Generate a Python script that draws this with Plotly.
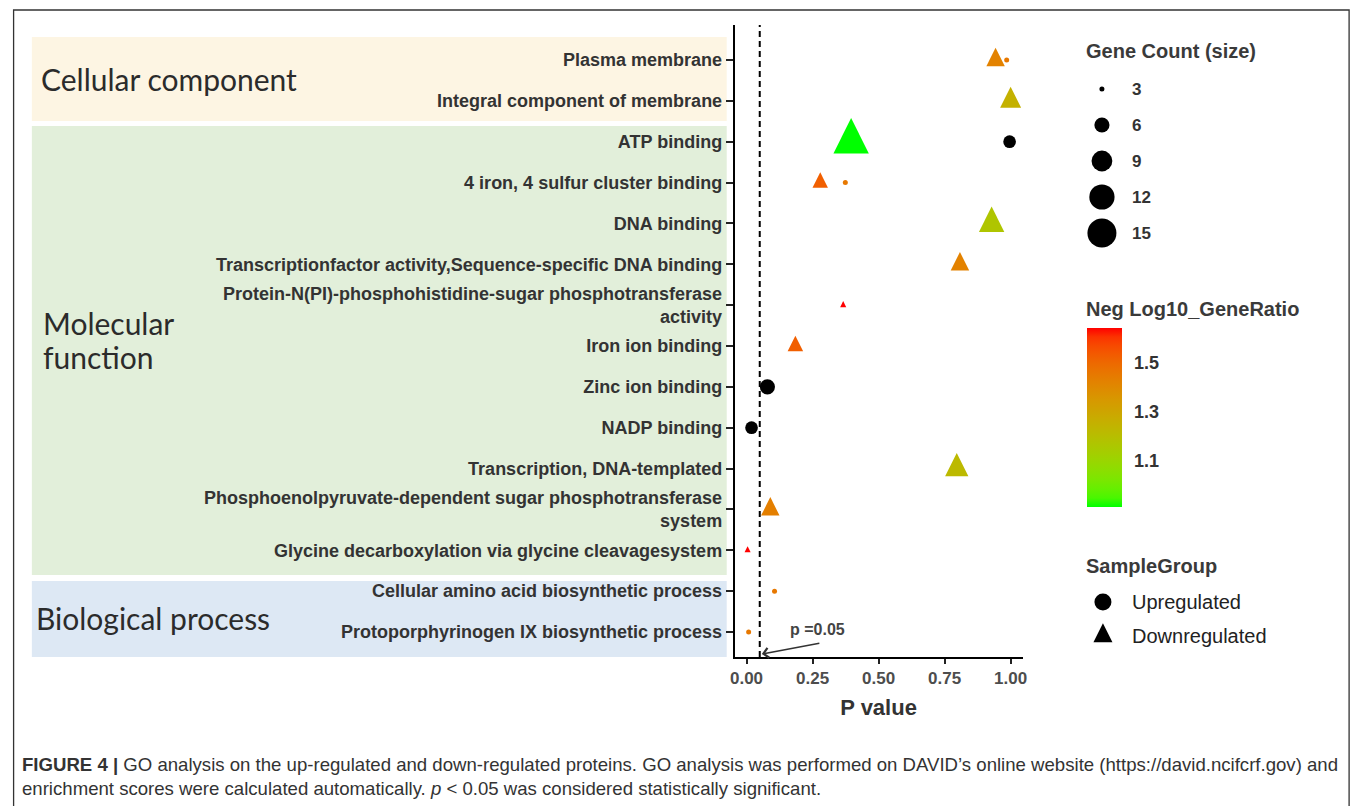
import numpy as np
import plotly.graph_objects as go

W, H = 1360, 806
OX, OY = 8, 8  # page body margin of the html wrapper

# ---------------- data ----------------
terms = [
    "Plasma membrane",
    "Integral component of membrane",
    "ATP binding",
    "4 iron, 4 sulfur cluster binding",
    "DNA binding",
    "Transcriptionfactor activity,Sequence-specific DNA binding",
    "Protein-N(PI)-phosphohistidine-sugar phosphotransferase<br>activity",
    "Iron ion binding",
    "Zinc ion binding",
    "NADP binding",
    "Transcription, DNA-templated",
    "Phosphoenolpyruvate-dependent sugar phosphotransferase<br>system",
    "Glycine decarboxylation via glycine cleavagesystem",
    "Cellular amino acid biosynthetic process",
    "Protoporphyrinogen IX biosynthetic process",
]

pt_term = [0, 0, 1, 2, 2, 3, 3, 4, 5, 6, 7, 8, 9, 10, 11, 12, 13, 14]
pt_group = ["Down", "Up", "Down", "Down", "Up", "Down", "Up", "Down", "Down",
            "Down", "Down", "Up", "Up", "Down", "Down", "Down", "Up", "Up"]
pt_pvalue = [0.943, 0.985, 1.0, 0.396, 0.996, 0.279, 0.374, 0.928, 0.808,
             0.366, 0.185, 0.079, 0.019, 0.796, 0.090, 0.004, 0.106, 0.008]
pt_count = [6, 3, 7, 15, 5, 5, 3, 9, 6, 3, 5, 6, 5, 8, 6, 3, 3, 3]
pt_neglog = [1.42, 1.45, 1.25, 0.91, None, 1.52, 1.45, 1.17, 1.42,
             1.64, 1.52, None, None, 1.22, 1.43, 1.64, 1.45, 1.45]

size_breaks = [3, 6, 9, 12, 15]
color_ticks = [1.1, 1.3, 1.5]
group_names = ["Upregulated", "Downregulated"]
p_cut = 0.05

caption1 = ("<b>FIGURE 4 |</b> GO analysis on the up-regulated and down-regulated proteins. "
            "GO analysis was performed on DAVID\u2019s online website (https://david.ncifcrf.gov) and")
caption2 = ("enrichment scores were calculated automatically. <i>p</i> &lt; 0.05 was considered "
            "statistically significant.")

# ---------------- scales ----------------
def circ_size(c):
    return float(np.sqrt(25 + (c - 3) * 68))

def tri_size(c):
    return 1.22 * circ_size(c)

M = np.array([[0.4124564, 0.3575761, 0.1804375],
              [0.2126729, 0.7151522, 0.0721750],
              [0.0193339, 0.1191920, 0.9503041]])
WP = np.array([0.95047, 1.0, 1.08883])

def rgb2lab(rgb):
    c = np.asarray(rgb, float) / 255.0
    lin = np.where(c <= 0.04045, c / 12.92, ((c + 0.055) / 1.055) ** 2.4)
    xyz = M @ lin / WP
    d = 6 / 29
    f = np.where(xyz > d ** 3, np.cbrt(xyz), xyz / (3 * d * d) + 4 / 29)
    return np.array([116 * f[1] - 16, 500 * (f[0] - f[1]), 200 * (f[1] - f[2])])

def lab2rgb(lab):
    L, a, b = lab
    fy = (L + 16) / 116
    f = np.array([fy + a / 500, fy, fy - b / 200])
    d = 6 / 29
    xyz = np.where(f > d, f ** 3, 3 * d * d * (f - 4 / 29)) * WP
    lin = np.clip(np.linalg.inv(M) @ xyz, 0, 1)
    c = np.where(lin <= 0.0031308, 12.92 * lin, 1.055 * lin ** (1 / 2.4) - 0.055)
    r, g, bb = (int(round(v * 255)) for v in np.clip(c, 0, 1))
    return f"rgb({r},{g},{bb})"

lo, hi = rgb2lab([0, 255, 0]), rgb2lab([255, 0, 0])
colorscale = [[t, lab2rgb(lo + (hi - lo) * t)] for t in np.linspace(0, 1, 21)]
valid = [v for v in pt_neglog if v is not None]
cmin, cmax = min(valid), max(valid)

def px(x):
    return (x - OX) / W

def py(y):
    return 1 - (y - OY) / H

fig = go.Figure()

# ---------------- main traces ----------------
down = [i for i in range(len(pt_term)) if pt_group[i] == "Down"]
up_col = [i for i in range(len(pt_term)) if pt_group[i] == "Up" and pt_neglog[i] is not None]
up_na = [i for i in range(len(pt_term)) if pt_group[i] == "Up" and pt_neglog[i] is None]

fig.add_trace(go.Scatter(
    x=[pt_pvalue[i] for i in down], y=[terms[pt_term[i]] for i in down],
    mode="markers", showlegend=False, hoverinfo="skip",
    marker=dict(symbol="arrow-down", angle=180, opacity=1,
                size=[tri_size(pt_count[i]) for i in down],
                standoff=[tri_size(pt_count[i]) * 2 / 3 for i in down],
                color=[pt_neglog[i] for i in down], coloraxis="coloraxis",
                line=dict(width=0))))
fig.add_trace(go.Scatter(
    x=[pt_pvalue[i] for i in up_col], y=[terms[pt_term[i]] for i in up_col],
    mode="markers", showlegend=False, hoverinfo="skip",
    marker=dict(symbol="circle", opacity=1, size=[circ_size(pt_count[i]) for i in up_col],
                color=[pt_neglog[i] for i in up_col], coloraxis="coloraxis",
                line=dict(width=0))))
fig.add_trace(go.Scatter(
    x=[pt_pvalue[i] for i in up_na], y=[terms[pt_term[i]] for i in up_na],
    mode="markers", showlegend=False, hoverinfo="skip",
    marker=dict(symbol="circle", opacity=1, size=[circ_size(pt_count[i]) for i in up_na],
                color="black", line=dict(width=0))))

# ---------------- legend glyphs (overlay axis in reference-pixel units) ----------------
size_y = [89 + 36 * k for k in range(len(size_breaks))]
fig.add_trace(go.Scatter(
    x=[1105] * len(size_breaks), y=size_y, xaxis="x2", yaxis="y2",
    mode="markers", showlegend=False, hoverinfo="skip",
    marker=dict(symbol="circle", color="black", opacity=1,
                size=[circ_size(c) for c in size_breaks], line=dict(width=0))))
grp_y = [602, 636]
fig.add_trace(go.Scatter(
    x=[1106], y=[grp_y[0]], xaxis="x2", yaxis="y2", mode="markers",
    showlegend=False, hoverinfo="skip",
    marker=dict(symbol="circle", color="black", size=17, opacity=1, line=dict(width=0))))
fig.add_trace(go.Scatter(
    x=[1106], y=[grp_y[1]], xaxis="x2", yaxis="y2", mode="markers",
    showlegend=False, hoverinfo="skip",
    marker=dict(symbol="arrow-down", angle=180, size=19, standoff=19 * 2 / 3,
                color="black", opacity=1, line=dict(width=0))))

# ---------------- layout ----------------
BOLD = "Liberation Sans, Arial, sans-serif"
TICKFONT = dict(family=BOLD, size=18, color="#333333", weight="bold")

x_left, x_right = 735, 1025
y_top, y_bot = 25, 657
n = len(terms)

cb_left, cb_right, cb_top, cb_bot = 1087, 1122, 328, 507

fig.update_layout(
    width=W, height=H, autosize=False,
    margin=dict(l=0, r=0, t=0, b=0),
    paper_bgcolor="white", plot_bgcolor="white",
    xaxis=dict(domain=[px(x_left), px(x_right)], range=[-0.045, 1.045],
               tickvals=[0, 0.25, 0.5, 0.75, 1.0],
               ticktext=["0.00", "0.25", "0.50", "0.75", "1.00"],
               ticks="outside", ticklen=5, tickwidth=1.5, tickcolor="#222",
               showline=True, linecolor="black", linewidth=1.8,
               showgrid=False, zeroline=False,
               tickfont=dict(family=BOLD, size=17, color="#4d4d4d", weight="bold"),
               title=dict(text="<b>P value</b>", font=dict(family=BOLD, size=22, color="#333"),
                          standoff=12)),
    yaxis=dict(domain=[py(y_bot), py(y_top)], type="category",
               categoryorder="array", categoryarray=terms,
               range=[n - 1 + 25 / 40.857, -35 / 40.857],
               ticks="outside", ticklen=7, tickwidth=1.5, tickcolor="#222",
               showline=True, linecolor="black", linewidth=1.8,
               showgrid=False, zeroline=False, tickfont=TICKFONT),
    xaxis2=dict(domain=[px(1060), 1.0], range=[1060, W + OX], visible=False, anchor="y2"),
    yaxis2=dict(domain=[0, 1], range=[H + OY, OY], visible=False, anchor="x2"),
    coloraxis=dict(
        colorscale=colorscale, cmin=cmin, cmax=cmax,
        colorbar=dict(
            x=px(cb_left + 3), xanchor="left", y=py(cb_top), yanchor="top", xpad=0, ypad=0,
            len=(cb_bot - cb_top) / H, lenmode="fraction", thickness=cb_right - cb_left,
            thicknessmode="pixels",
            outlinewidth=0, tickvals=color_ticks, ticktext=[f"{v:.1f}" for v in color_ticks],
            ticks="outside", ticklen=9, tickcolor="rgba(0,0,0,0)", tickwidth=1,
            tickfont=dict(family=BOLD, size=18, color="#333", weight="bold"),
            title=dict(text=""))),
)

shapes = []
bands = [(37, 121, "#FDF5E3"), (126, 575, "#E2EFDA"), (581, 657, "#DDE8F4")]
for y0, y1, col in bands:
    shapes.append(dict(type="rect", xref="paper", yref="paper",
                       x0=px(27), x1=px(727), y0=py(y1), y1=py(y0),
                       fillcolor=col, line=dict(width=0), layer="below"))
shapes.append(dict(type="rect", xref="paper", yref="paper",
                   x0=px(8.6), x1=px(1354), y0=-0.02, y1=py(10),
                   line=dict(color="#333", width=1.3), fillcolor="rgba(0,0,0,0)", layer="above"))
shapes.append(dict(type="line", xref="x", yref="y domain", x0=p_cut, x1=p_cut, y0=0, y1=1,
                   line=dict(color="black", width=2, dash="6px,4px")))
# white colourbar ticks on both edges (ggplot style)
for v in color_ticks:
    yv = cb_top + (cmax - v) / (cmax - cmin) * (cb_bot - cb_top)
    for xa, xb in [(cb_left + 3, cb_left + 10), (cb_right - 4, cb_right + 3)]:
        shapes.append(dict(type="line", xref="paper", yref="paper",
                           x0=px(xa), x1=px(xb), y0=py(yv), y1=py(yv),
                           line=dict(color="white", width=1), layer="above"))
fig.update_layout(shapes=shapes)

ann = []
GROUPFONT = dict(family="Lato, Open Sans, sans-serif", size=30, color="#2b2b2b")
ann.append(dict(text="Cellular component", x=px(34), y=py(79), xanchor="left", yanchor="middle",
                font=GROUPFONT))
ann.append(dict(text="Molecular", x=px(36), y=py(323), xanchor="left", yanchor="middle",
                font=GROUPFONT))
ann.append(dict(text="function", x=px(36), y=py(357), xanchor="left", yanchor="middle",
                font=GROUPFONT))
ann.append(dict(text="Biological process", x=px(29), y=py(618), xanchor="left", yanchor="middle",
                font=GROUPFONT))
ann.append(dict(text="<b>p =0.05</b>", x=px(818), y=py(629), xanchor="center", yanchor="middle",
                font=dict(family=BOLD, size=16, color="#444")))
ann.append(dict(text="", x=p_cut + 0.008, xref="x", y=py(654), yref="paper",
                ax=59, ay=-11, axref="pixel", ayref="pixel",
                showarrow=True, arrowhead=4, arrowsize=1.3, arrowwidth=1.5, arrowcolor="#333"))
LT = dict(family=BOLD, size=20, color="#3a3a3a")
ann.append(dict(text="<b>Gene Count (size)</b>", x=px(1087), y=py(51), xanchor="left",
                yanchor="middle", font=LT))
ann.append(dict(text="<b>Neg Log10_GeneRatio</b>", x=px(1087), y=py(309), xanchor="left",
                yanchor="middle", font=LT))
ann.append(dict(text="<b>SampleGroup</b>", x=px(1087), y=py(566), xanchor="left",
                yanchor="middle", font=LT))
for c, yy in zip(size_breaks, size_y):
    ann.append(dict(text=f"<b>{c}</b>", x=1133, y=yy, xref="x2", yref="y2", xanchor="left",
                    yanchor="middle", showarrow=False,
                    font=dict(family=BOLD, size=17, color="#333")))
for g, yy in zip(group_names, grp_y):
    ann.append(dict(text=g, x=1133, y=yy, xref="x2", yref="y2", xanchor="left",
                    yanchor="middle", showarrow=False,
                    font=dict(family=BOLD, size=20, color="#222")))
CAP = dict(family="Liberation Sans, Arial, sans-serif", size=18.6, color="#333")
ann.append(dict(text=caption1, x=px(15), y=py(764), xanchor="left", yanchor="middle", font=CAP))
ann.append(dict(text=caption2, x=px(15), y=py(788), xanchor="left", yanchor="middle", font=CAP))

for a in ann:
    a.setdefault("xref", "paper")
    a.setdefault("yref", "paper")
    a.setdefault("showarrow", False)
fig.update_layout(annotations=ann)

fig.write_html("out.html")
